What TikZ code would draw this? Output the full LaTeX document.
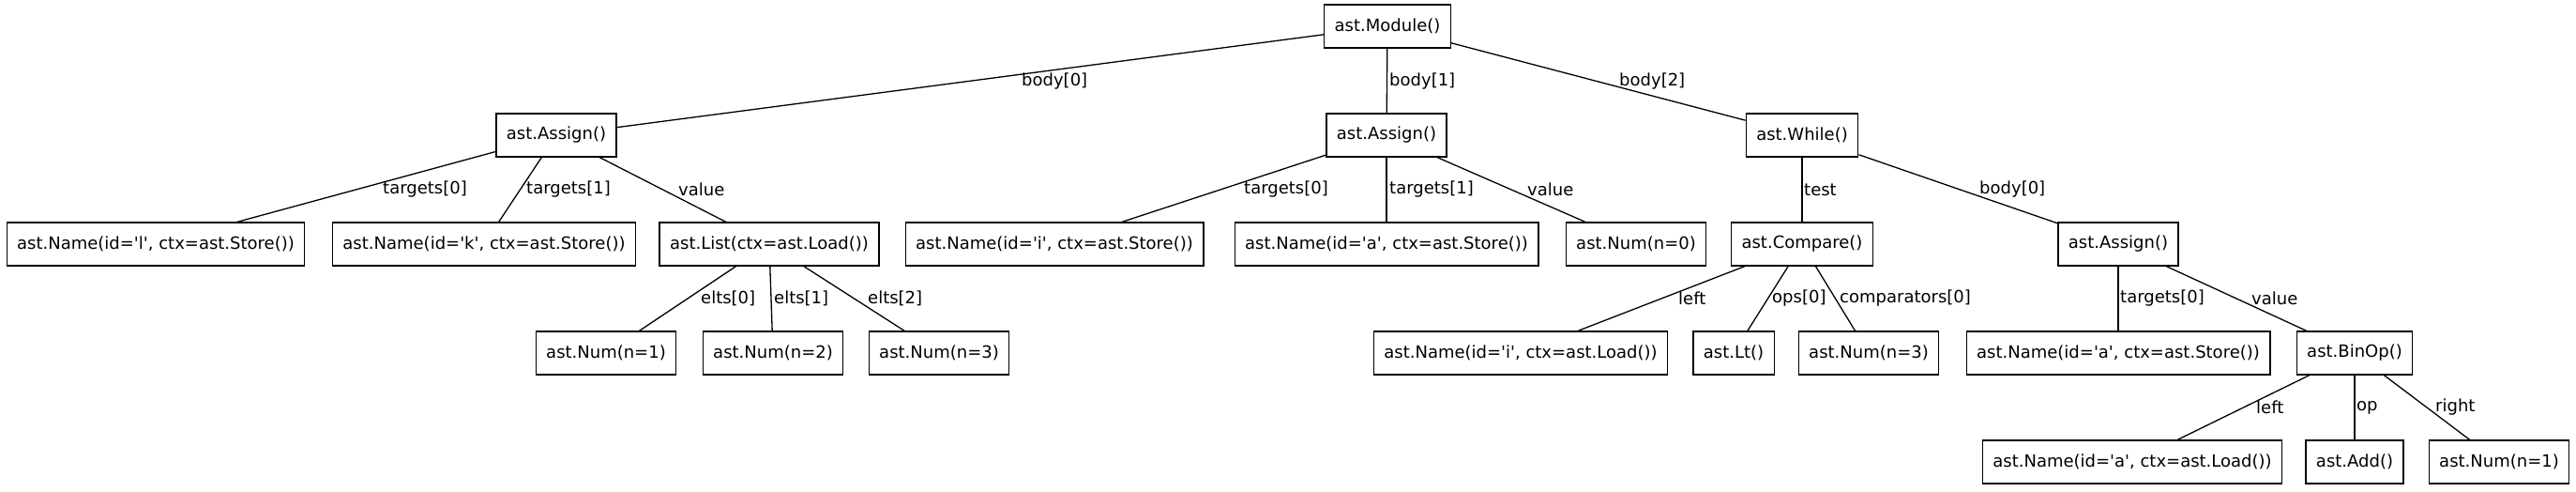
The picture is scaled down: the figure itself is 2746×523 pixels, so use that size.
\documentclass[tikz,border=0pt]{standalone}
\usepackage{fontspec}
\newfontfamily\djv{DejaVu Sans}
\begin{document}
\begin{tikzpicture}[x=1pt,y=-1pt,
  astnode/.style={draw, line width=1.3pt, rectangle, inner xsep=11pt, inner ysep=0pt, minimum height=46pt, font=\djv\fontsize{18}{21}\selectfont},
  elab/.style={anchor=west, inner sep=0pt, font=\djv\fontsize{18}{21}\selectfont},
  conn/.style={line width=1.3pt}]
\useasboundingbox (0,0) rectangle (2746,523);
% row 0
\node[astnode] (mod) at (1479,28) {ast.Module()};
% row 1
\node[astnode] (as1) at (593,144) {ast.Assign()};
\node[astnode] (as2) at (1478,144) {ast.Assign()};
\node[astnode] (whl) at (1921,144) {ast.While()};
% row 2
\node[astnode] (nl) at (166,260) {ast.Name(id='l', ctx=ast.Store())};
\node[astnode] (nk) at (516,260) {ast.Name(id='k', ctx=ast.Store())};
\node[astnode] (lst) at (820,260) {ast.List(ctx=ast.Load())};
\node[astnode] (ni) at (1124,260) {ast.Name(id='i', ctx=ast.Store())};
\node[astnode] (na) at (1478,260) {ast.Name(id='a', ctx=ast.Store())};
\node[astnode] (n0) at (1744,260) {ast.Num(n=0)};
\node[astnode] (cmp) at (1921,260) {ast.Compare()};
\node[astnode] (as3) at (2258,260) {ast.Assign()};
% row 3
\node[astnode] (n1) at (646,376) {ast.Num(n=1)};
\node[astnode] (n2) at (824,376) {ast.Num(n=2)};
\node[astnode] (n3) at (1001,376) {ast.Num(n=3)};
\node[astnode] (nil) at (1621,376) {ast.Name(id='i', ctx=ast.Load())};
\node[astnode] (lt) at (1848,376) {ast.Lt()};
\node[astnode] (n3b) at (1992,376) {ast.Num(n=3)};
\node[astnode] (nas) at (2258,376) {ast.Name(id='a', ctx=ast.Store())};
\node[astnode] (bop) at (2510,376) {ast.BinOp()};
% row 4
\node[astnode] (nal) at (2273,492) {ast.Name(id='a', ctx=ast.Load())};
\node[astnode] (add) at (2510,492) {ast.Add()};
\node[astnode] (n1b) at (2664,492) {ast.Num(n=1)};
% connectors
\draw[conn] (mod) -- (as1);
\draw[conn] (mod) -- (as2);
\draw[conn] (mod) -- (whl);
\draw[conn] (as1) -- (nl);
\draw[conn] (as1) -- (nk);
\draw[conn] (as1) -- (lst);
\draw[conn] (as2) -- (ni);
\draw[conn] (as2) -- (na);
\draw[conn] (as2) -- (n0);
\draw[conn] (whl) -- (cmp);
\draw[conn] (whl) -- (as3);
\draw[conn] (lst) -- (n1);
\draw[conn] (lst) -- (n2);
\draw[conn] (lst) -- (n3);
\draw[conn] (cmp) -- (nil);
\draw[conn] (cmp) -- (lt);
\draw[conn] (cmp) -- (n3b);
\draw[conn] (as3) -- (nas);
\draw[conn] (as3) -- (bop);
\draw[conn] (bop) -- (nal);
\draw[conn] (bop) -- (add);
\draw[conn] (bop) -- (n1b);
% edge labels
\node[elab] (l1) at (1089,87) {body[0]};
\node[elab] (l2) at (1481,87) {body[1]};
\node[elab] (l3) at (1726,87) {body[2]};
\node[elab] (l4) at (408,202) {targets[0]};
\node[elab] (l5) at (561,202) {targets[1]};
\node[elab] (l6) at (723,202) {value};
\node[elab] (l7) at (1326,202) {targets[0]};
\node[elab] (l8) at (1481,202) {targets[1]};
\node[elab] (l9) at (1628,202) {value};
\node[elab] (l10) at (1923,202) {test};
\node[elab] (l11) at (2110,202) {body[0]};
\node[elab] (l12) at (747,318) {elts[0]};
\node[elab] (l13) at (825,318) {elts[1]};
\node[elab] (l14) at (925,318) {elts[2]};
\node[elab] (l15) at (1789,318) {left};
\node[elab] (l16) at (1889,318) {ops[0]};
\node[elab] (l17) at (1961,318) {comparators[0]};
\node[elab] (l18) at (2260,318) {targets[0]};
\node[elab] (l19) at (2400,318) {value};
\node[elab] (l20) at (2405,434) {left};
\node[elab] (l21) at (2512,434) {op};
\node[elab] (l22) at (2596,434) {right};
\end{tikzpicture}
\end{document}
